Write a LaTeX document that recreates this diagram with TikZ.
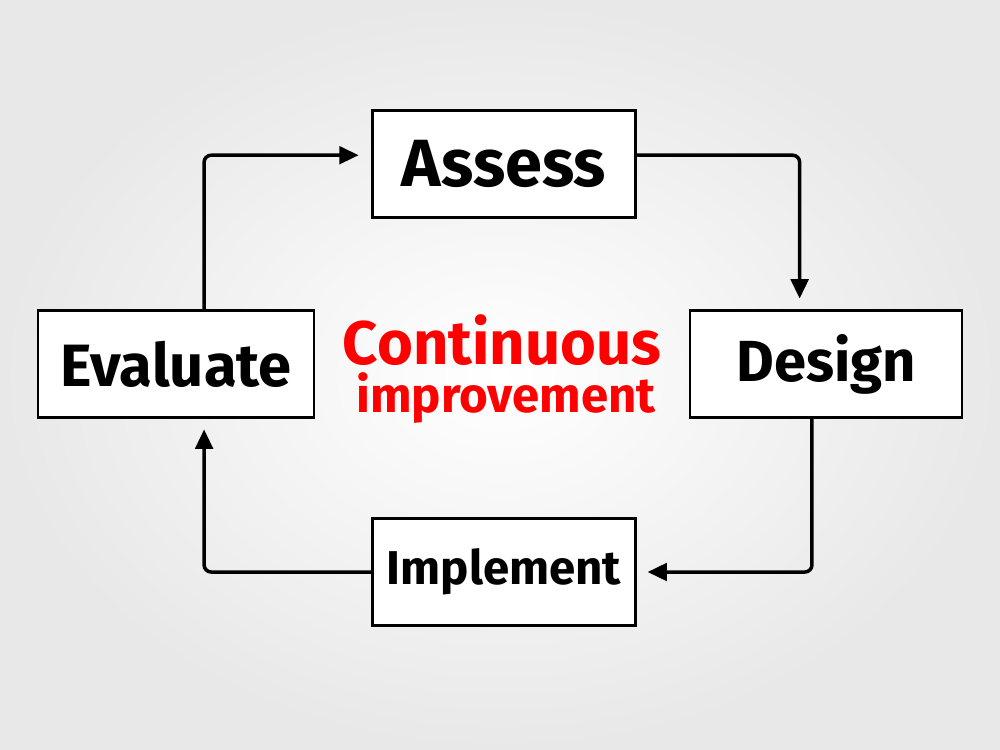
\documentclass[tikz,border=0pt]{standalone}
\usepackage{fontspec}
\setmainfont{Fira Sans}
\usetikzlibrary{arrows.meta}

\begin{document}
\begin{tikzpicture}[x=0.02cm,y=-0.02cm]
\tikzset{stepbox/.style = {
draw,
line width = 1.5pt,
fill = white,
minimum width = 150pt,
minimum height = 61pt,
inner sep = 0pt,
font = \bfseries},
flow/.style = {
line width = 2pt,
rounded corners = 4pt,
-{Triangle[length=11pt,width=10pt]}},
title/.style = {
text = red,
inner sep = 0pt,
anchor = base,
font = \bfseries}}
\shade[inner color=white,outer color=black!9] (0,0) rectangle (1000,750);
\node[stepbox] (assess) at (504,164) {\fontsize{38}{42}\selectfont Assess};
\node[stepbox,minimum width=155pt] (design) at (826,364) {\fontsize{33}{36}\selectfont Design};
\node[stepbox] (implement) at (504,572) {\fontsize{27}{30}\selectfont Implement};
\node[stepbox,minimum width=157pt] (evaluate) at (176,364) {\fontsize{34}{36}\selectfont Evaluate};
\node[title] (cont) at (502,364) {\fontsize{35}{36}\selectfont Continuous};
\node[title] (impr) at (506,412) {\fontsize{28}{30}\selectfont improvement};
\draw[flow,shorten >=6pt] ([yshift=5pt]assess.east) -| ([xshift=-15pt]design.north);
\draw[flow,shorten >=6pt] ([xshift=-8pt]design.south) |- (implement.east);
\draw[flow,shorten >=6pt] (implement.west) -| ([xshift=16pt]evaluate.south);
\draw[flow,shorten >=7pt] ([xshift=16pt]evaluate.north) |- ([yshift=5pt]assess.west);
\end{tikzpicture}
\end{document}
